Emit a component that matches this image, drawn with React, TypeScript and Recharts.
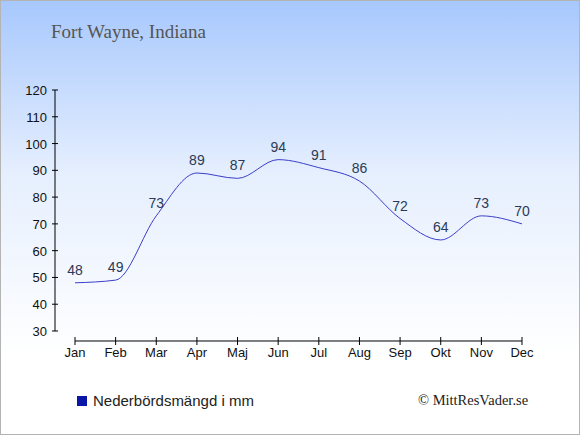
import { LineChart, Line, XAxis, YAxis, LabelList, ReferenceLine } from 'recharts'

const months = ['Jan', 'Feb', 'Mar', 'Apr', 'Maj', 'Jun', 'Jul', 'Aug', 'Sep', 'Okt', 'Nov', 'Dec']
const rainfall = [48, 49, 73, 89, 87, 94, 91, 86, 72, 64, 73, 70]
const yTicks = [30, 40, 50, 60, 70, 80, 90, 100, 110, 120]

const data = months.map((m, i) => ({ month: m, mm: rainfall[i] }))

const SANS = '"Liberation Sans", Arial, sans-serif'
const SERIF = '"Liberation Serif", "Times New Roman", serif'

// x axis sits a little below the lowest y tick
const xAxisLevel = 30 - 10 * 10 / 26.8

function XTick({ x, y, payload }: any) {
  return (
    <g>
      <line x1={x} x2={x} y1={y + 6} y2={y + 14} stroke="#000" strokeWidth={1} />
      <text x={x} y={y + 26} textAnchor="middle" fontSize={13} fontFamily={SANS} fill="#111">
        {payload.value}
      </text>
    </g>
  )
}

function YTick({ x, y, payload }: any) {
  return (
    <g>
      <line x1={x - 3} x2={x + 3} y1={y} y2={y} stroke="#000" strokeWidth={1} />
      <text x={x - 8} y={y + 5} textAnchor="end" fontSize={13} fontFamily={SANS} fill="#111">
        {payload.value}
      </text>
    </g>
  )
}

export default function App() {
  return (
    <div style={{
      position: 'absolute', left: 0, top: 0, width: 578, height: 433,
      border: '1px solid #b4b4b4',
      background: 'linear-gradient(to bottom, #a7c8fd 0%, #e6effe 40%, #ffffff 82%)',
    }}>
      <div style={{
        position: 'absolute', left: 50, top: 20, fontFamily: SERIF, fontSize: 19, color: '#555',
        whiteSpace: 'nowrap',
      }}>
        Fort Wayne, Indiana
      </div>
      <div style={{
        position: 'absolute', left: 76, top: 391, display: 'flex', alignItems: 'center',
        fontFamily: SANS, fontSize: 15, color: '#222', whiteSpace: 'nowrap',
      }}>
        <span style={{ width: 10, height: 10, background: '#0a16a8', marginRight: 6, display: 'inline-block' }} />
        Nederbördsmängd i mm
      </div>
      <div style={{
        position: 'absolute', left: 417, top: 391, fontFamily: SERIF, fontSize: 14.5, color: '#222',
        whiteSpace: 'nowrap',
      }}>
        © MittResVader.se
      </div>
      <LineChart width={578} height={433} data={data} margin={{ top: 89, right: 57, bottom: 73, left: 0 }}>
        <XAxis
          dataKey="month"
          axisLine={false}
          tickLine={false}
          tickSize={0}
          tickMargin={0}
          tick={<XTick />}
          padding={{ left: 20, right: 0 }}
          interval={0}
          height={30}
        />
        <YAxis
          domain={[30, 120]}
          ticks={yTicks}
          width={54}
          axisLine={{ stroke: '#000' }}
          tickLine={false}
          tickSize={0}
          tickMargin={0}
          tick={<YTick />}
          interval={0}
        />
        <ReferenceLine
          segment={[{ x: 'Jan', y: xAxisLevel }, { x: 'Dec', y: xAxisLevel }]}
          stroke="#000"
          ifOverflow="visible"
        />
        <Line
          type="monotone"
          dataKey="mm"
          stroke="#3a3ec8"
          strokeWidth={1}
          dot={false}
          isAnimationActive={false}
        >
          <LabelList dataKey="mm" position="top" offset={8} fontSize={14} fontFamily={SANS} fill="#2a3a58" />
        </Line>
      </LineChart>
    </div>
  )
}
